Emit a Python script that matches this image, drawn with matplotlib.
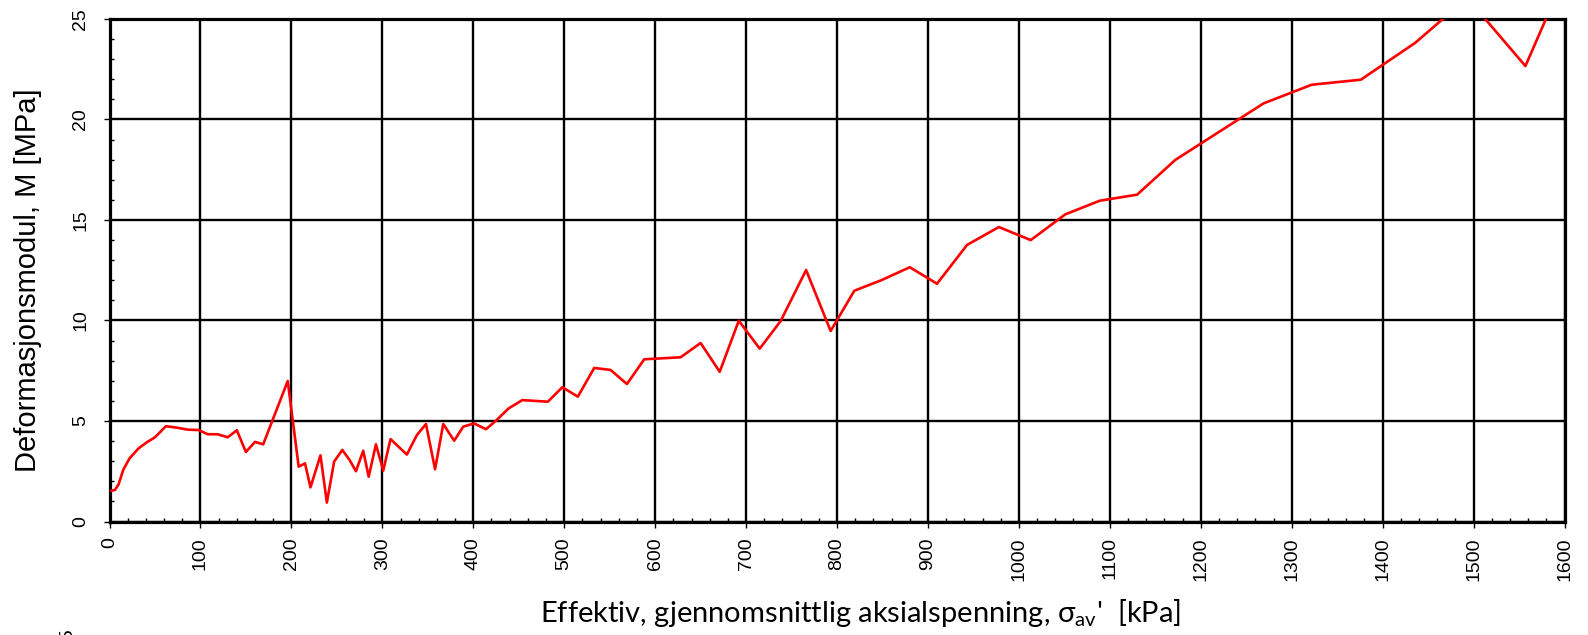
import matplotlib
matplotlib.use('Agg')
import matplotlib.pyplot as plt
from matplotlib.ticker import MultipleLocator


# effektiv aksialspenning [kPa] og deformasjonsmodul M [MPa]
sigma = [2, 6, 10, 15, 22, 32, 41, 50, 62, 74, 86, 98, 108, 119, 130, 140,
         150, 160, 169, 196, 208, 215, 221, 232, 239, 247, 256, 264, 271,
         279, 285, 293, 301, 309, 327, 338, 348, 358, 367, 379, 389, 401,
         414, 425, 439, 454, 482, 498, 515, 533, 551, 569, 588, 628, 650,
         671, 692, 715, 738, 766, 793, 819, 849, 880, 910, 943, 978, 1013,
         1051, 1089, 1130, 1172, 1269, 1322, 1376, 1436, 1493, 1557, 1595]
modul = [1.53, 1.57, 1.85, 2.56, 3.14, 3.64, 3.94, 4.19, 4.74, 4.67, 4.57,
         4.55, 4.34, 4.34, 4.19, 4.54, 3.46, 3.96, 3.84, 6.99, 2.73, 2.89,
         1.70, 3.29, 0.94, 2.98, 3.56, 3.06, 2.50, 3.52, 2.23, 3.84, 2.53,
         4.10, 3.33, 4.30, 4.85, 2.60, 4.85, 4.02, 4.72, 4.88, 4.59, 5.02,
         5.63, 6.04, 5.96, 6.68, 6.21, 7.64, 7.54, 6.84, 8.07, 8.17, 8.88,
         7.45, 9.99, 8.60, 9.97, 12.51, 9.48, 11.48, 12.01, 12.65, 11.83,
         13.76, 14.65, 14.00, 15.28, 15.96, 16.26, 17.99, 20.80, 21.73,
         21.98, 23.82, 26.05, 22.66, 26.60]

X_MAX = 1600
Y_MAX = 25

plt.rcParams['font.family'] = ['Liberation Sans', 'DejaVu Sans']
plt.rcParams['mathtext.fontset'] = 'custom'
plt.rcParams['mathtext.rm'] = 'Lato'

fig = plt.figure(figsize=(15.88, 6.35), dpi=100)
ax = fig.add_axes([0.06896, 0.17874, 0.91625, 0.79134])

ax.plot(sigma, modul, color='red', lw=1.9, zorder=3)

ax.set_xlim(0, X_MAX)
ax.set_ylim(0, Y_MAX)
ax.xaxis.set_major_locator(MultipleLocator(100))
ax.xaxis.set_minor_locator(MultipleLocator(20))
ax.yaxis.set_major_locator(MultipleLocator(5))
ax.yaxis.set_minor_locator(MultipleLocator(1))
ax.grid(True, which='major', color='black', lw=1.7, zorder=1)

for side in ax.spines.values():
    side.set_linewidth(2.3)
    side.set_color('black')

ax.tick_params(which='major', direction='out', length=4.5, width=1,
               labelsize=14, color='black')
ax.tick_params(which='minor', direction='in', length=3, width=1,
               color='black')
ax.tick_params(axis='x', which='major', pad=7, labelrotation=90)
ax.tick_params(axis='y', which='major', pad=10, labelrotation=90)
for lab in ax.get_yticklabels():
    lab.set_va('center')

fig.text(0.0178, 0.559, 'Deformasjonsmodul, M [MPa]', rotation=90,
         ha='center', va='center', fontsize=21)
fig.text(0.5416, 0.0208,
         "Effektiv, gjennomsnittlig aksialspenning, σ$_{\\mathrm{av}}$'  [kPa]",
         ha='center', va='baseline', fontsize=21,
         family=['Lato', 'DejaVu Sans'])

# toppen av neste figur under
fig.text(0.0428, 0.011, '25', rotation=90, ha='center', va='top',
         fontsize=14)

fig.savefig('out.png', dpi=100)
